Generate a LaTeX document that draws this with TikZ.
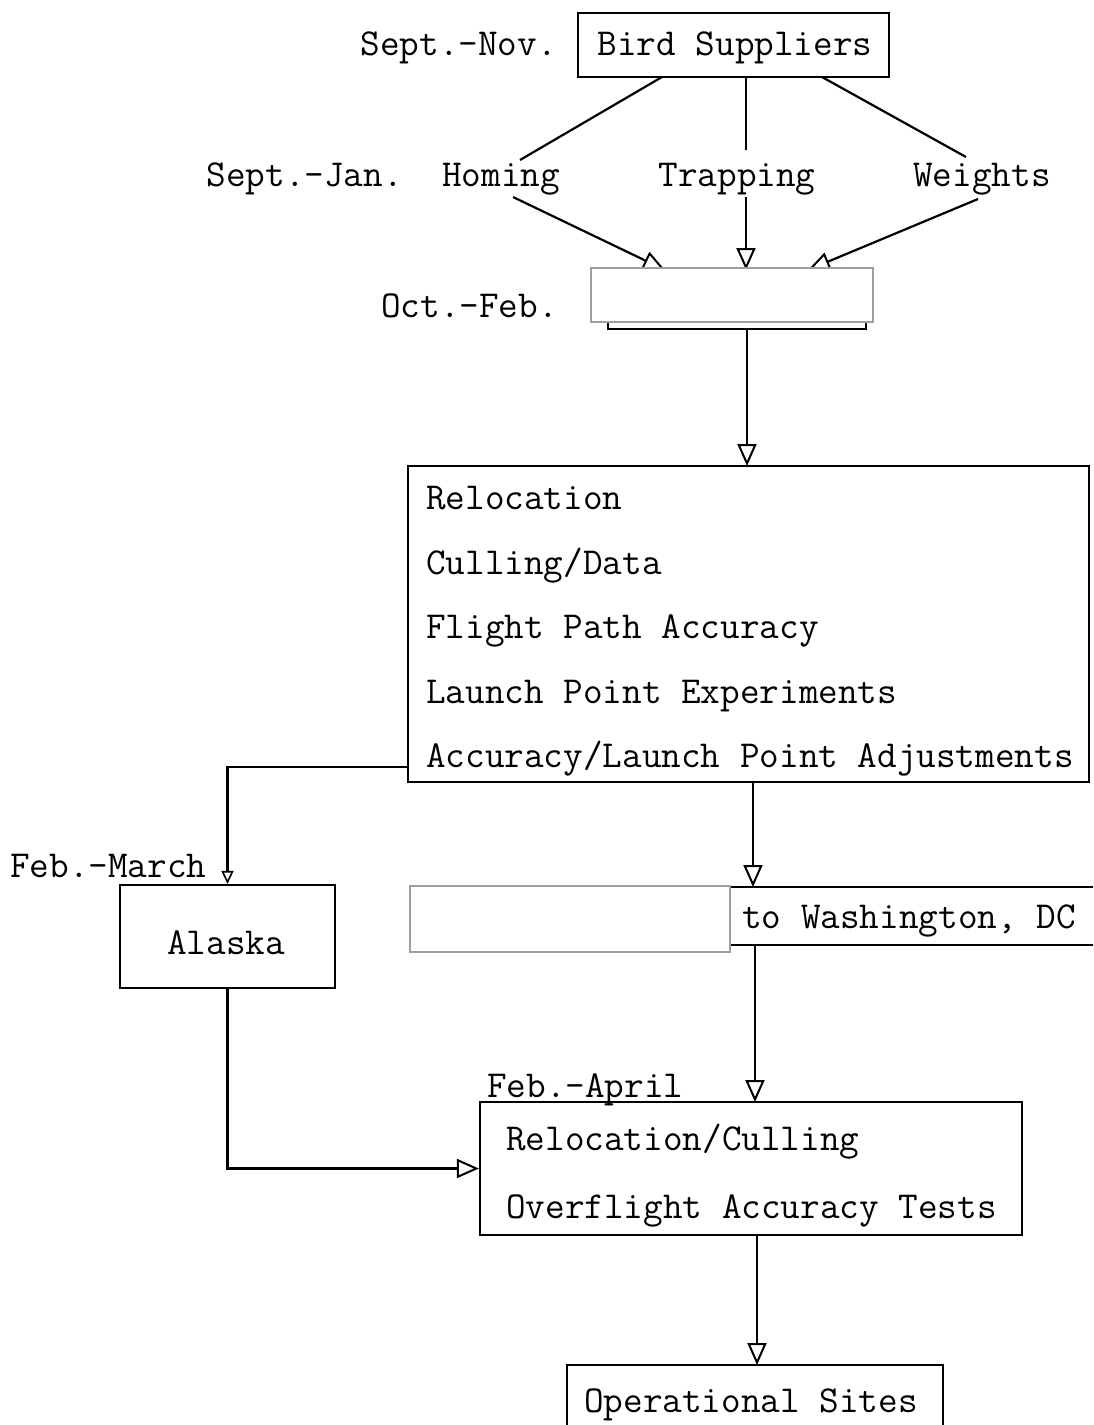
\documentclass[tikz,border=0pt]{standalone}
\usepackage{fontspec}
\usetikzlibrary{arrows.meta,calc}
\begin{document}
\begin{tikzpicture}[x=1pt,y=-1pt,
  box/.style={draw, line width=2.2pt, inner sep=0pt, rectangle},
  lbl/.style={font=\ttfamily\fontsize{38.1}{45}\selectfont, inner sep=0pt},
  conn/.style={line width=2.2pt},
  arr/.style={line width=2.2pt, -{Triangle[open,length=22pt,width=19pt,line width=2pt]}},
  sarr/.style={line width=2.2pt, -{Triangle[open,length=13pt,width=12pt,line width=1.6pt]}},
  redact/.style={draw=gray!75, fill=white, line width=1.2pt}]
\clip (0,0) rectangle (1093,1425);
\fill[white] (0,0) rectangle (1093,1425);

% top box
\node[box, minimum width=311pt, minimum height=64pt] (bs) at (733.5,45) {};
\node[lbl, anchor=base] (bst) at (735,55) {Bird Suppliers};
\node[lbl, anchor=base east] (snov) at (557,55) {Sept.-Nov.};

% second row
\node[lbl, anchor=base east] (sjan) at (403,186) {Sept.-Jan.};
\node[lbl, anchor=base] (hom) at (501,186) {Homing};
\node[lbl, anchor=base] (trap) at (737,186) {Trapping};
\node[lbl, anchor=base] (wts) at (982,186) {Weights};

\coordinate (bsA) at (662,77);
\coordinate (bsB) at (746,77);
\coordinate (bsC) at (822,77);
\coordinate (homT) at (520,160);
\coordinate (trapT) at (746,150);
\coordinate (wtsT) at (966,157);
\draw[conn] (bsA) -- (homT);
\draw[conn] (bsB) -- (trapT);
\draw[conn] (bsC) -- (wtsT);

% Oct.-Feb. box (partly covered)
\node[box, minimum width=258pt, minimum height=59pt] (ob) at (737,299.5) {};
\node[lbl, anchor=base east] (ofeb) at (558,317) {Oct.-Feb.};

\coordinate (homB) at (513,197);
\coordinate (trapB) at (746,197);
\coordinate (wtsB) at (978,199);
\coordinate (obA) at (665,270);
\coordinate (obB) at (746,270);
\coordinate (obC) at (808,270);
\draw[arr] (homB) -- (obA);
\draw[arr] (trapB) -- (obB);
\draw[arr] (wtsB) -- (obC);
\draw[redact] (591,268) rectangle (873,322);

% big box
\node[box, minimum width=681pt, minimum height=316pt] (bb) at (748.5,624) {};
\node[lbl, anchor=base west] (l1) at (426,509) {Relocation};
\node[lbl, anchor=base west] (l2) at (426,574) {Culling/Data};
\node[lbl, anchor=base west] (l3) at (426,638) {Flight Path Accuracy};
\node[lbl, anchor=base west] (l4) at (426,703) {Launch Point Experiments};
\node[lbl, anchor=base west] (l5) at (426,767) {Accuracy/Launch Point Adjustments};

\coordinate (obOut) at (747,329);
\coordinate (bbIn) at (747,466);
\draw[arr] (obOut) -- (bbIn);

% Alaska
\node[box, minimum width=215pt, minimum height=103pt] (ak) at (227.5,936.5) {};
\node[lbl, anchor=base] (akt) at (226,954) {Alaska};
\node[lbl, anchor=base west] (fmar) at (10,877) {Feb.-March};
\coordinate (bbL) at (408,767);
\draw[sarr] (bbL) -| (ak.north);

% Washington box (partly covered)
\node[box, minimum width=700pt, minimum height=58pt] (wb) at (760,916) {};
\draw[redact] (410,886) rectangle (730,952);
\node[lbl, anchor=base west] (wbt) at (742,928) {to Washington, DC};
\coordinate (bbOut) at (753,782);
\coordinate (wbIn) at (753,887);
\draw[arr] (bbOut) -- (wbIn);

% Feb.-April box
\node[box, minimum width=542pt, minimum height=133pt] (fa) at (751,1168.5) {};
\node[lbl, anchor=base west] (fapr) at (487,1097) {Feb.-April};
\node[lbl, anchor=base west] (f1) at (506,1150) {Relocation/Culling};
\node[lbl, anchor=base west] (f2) at (506,1218) {Overflight Accuracy Tests};
\coordinate (wbOut) at (755,945);
\coordinate (faIn) at (755,1102);
\draw[arr] (wbOut) -- (faIn);
\draw[arr] (ak.south) |- (fa.west);

% Operational Sites
\node[box, minimum width=376pt, minimum height=80pt] (os) at (755,1405) {};
\node[lbl, anchor=base] (ost) at (751,1412) {Operational Sites};
\coordinate (faOut) at (757,1235);
\coordinate (osIn) at (757,1365);
\draw[arr] (faOut) -- (osIn);
\end{tikzpicture}
\end{document}
